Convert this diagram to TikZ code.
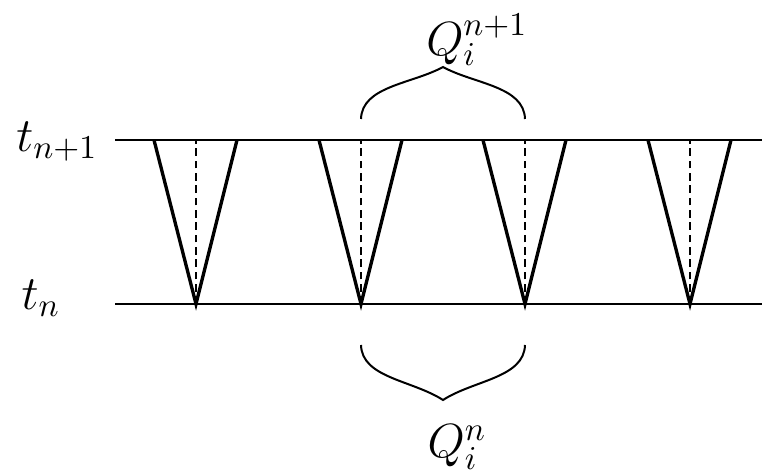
\documentclass[tikz,border=0pt]{standalone}
\begin{document}
\begin{tikzpicture}[x=0.3pt,y=-0.3pt,
  level/.style={line width=0.7pt},
  cone/.style={line width=1pt},
  axisline/.style={line width=0.5pt,dash pattern=on 2.3pt off 1.4pt},
  bracestyle/.style={line width=0.6pt},
  lbl/.style={inner sep=0pt,font=\Large}]
\useasboundingbox (0,0) rectangle (762,473);
% levels
\coordinate (L1) at (115,140);
\coordinate (R1) at (762,140);
\coordinate (L0) at (115,304);
\coordinate (R0) at (762,304);
\draw[level] (L1) -- (R1);
\draw[level] (L0) -- (R0);
\node[lbl] (tn1) at (57,142) {$t_{n+1}$};
\node[lbl] (tn) at (41,298) {$t_n$};
% cones
\foreach \i/\x in {1/196,2/361,3/525,4/690}{
  \coordinate (v\i) at (\x,304);
  \coordinate (a\i) at (\x-42,140);
  \coordinate (b\i) at (\x+41,140);
  \coordinate (c\i) at (\x,140);
  \draw[cone] (a\i) -- (v\i) -- (b\i);
  \draw[axisline] (v\i) -- (c\i);
}
% braces
\coordinate (bt1) at (361,119);
\coordinate (bt2) at (525,119);
\coordinate (btt) at (443,67);
\draw[bracestyle] (bt1) .. controls (362,86) and (412,84) .. (btt)
                  .. controls (474,84) and (524,86) .. (bt2);
\coordinate (bb1) at (361,345);
\coordinate (bb2) at (525,345);
\coordinate (bbt) at (443,400);
\draw[bracestyle] (bb1) .. controls (362,378) and (412,380) .. (bbt)
                  .. controls (474,380) and (524,378) .. (bb2);
\node[lbl] (qtop) at (477,40) {$Q_i^{n+1}$};
\node[lbl] (qbot) at (457,447) {$Q_i^{n}$};
\end{tikzpicture}
\end{document}
